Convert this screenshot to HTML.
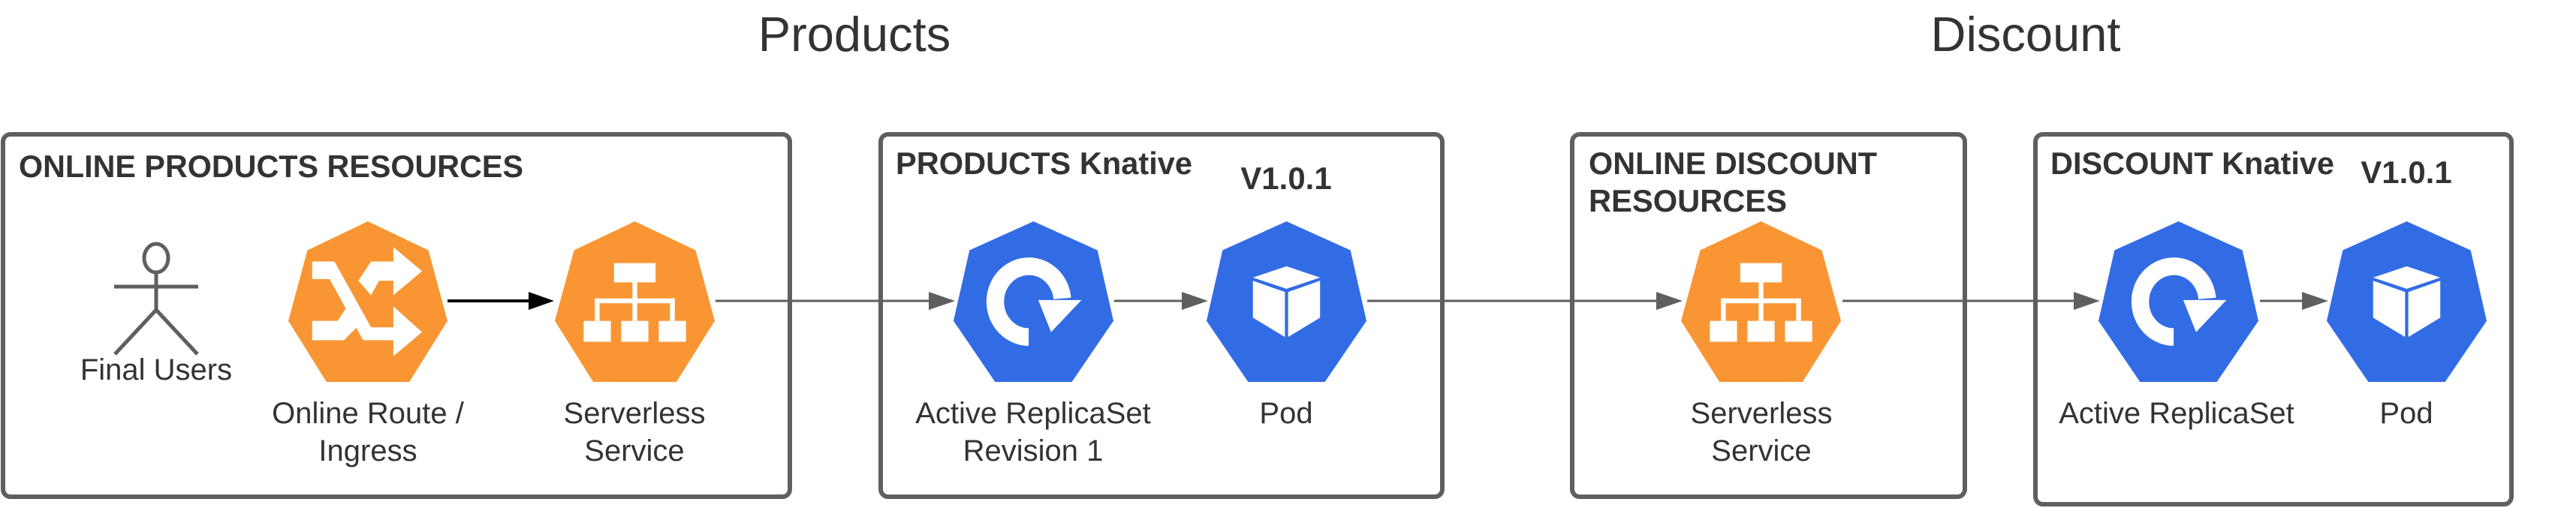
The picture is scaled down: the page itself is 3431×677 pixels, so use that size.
<!DOCTYPE html>
<html><head><meta charset="utf-8"><style>
html,body{margin:0;padding:0;background:#fff;}
svg{display:block;}
text{font-family:"Liberation Sans",Arial,sans-serif;fill:#333;}
.b{font-weight:bold;font-size:42px;}
.l{font-size:40px;text-anchor:middle;}
</style></head><body>
<svg width="3431" height="677" viewBox="0 0 3431 677" xmlns="http://www.w3.org/2000/svg">
<defs>
<symbol id="srv" viewBox="0 0 100 100" preserveAspectRatio="none">
<polygon points="50,0 88,18 100,62 76,100 24,100 0,62 12,18" fill="#f99633"/>
<rect x="37" y="26" width="26" height="12" fill="#fff"/>
<rect x="48.5" y="38" width="3" height="11" fill="#fff"/>
<rect x="25" y="48" width="50" height="3" fill="#fff"/>
<rect x="25" y="48" width="3" height="14" fill="#fff"/>
<rect x="48.5" y="48" width="3" height="14" fill="#fff"/>
<rect x="72" y="48" width="3" height="14" fill="#fff"/>
<rect x="18" y="62" width="17" height="13" fill="#fff"/>
<rect x="41.5" y="62" width="17" height="13" fill="#fff"/>
<rect x="65" y="62" width="17" height="13" fill="#fff"/>
</symbol>
<symbol id="ing" viewBox="0 0 100 100" preserveAspectRatio="none">
<polygon points="50,0 88,18 100,62 76,100 24,100 0,62 12,18" fill="#f99633"/>
<polygon points="15,25 29,25 52,66 66,66 66,53 84,69 66,84 66,74 47,74 26,36 15,36" fill="#fff"/>
<polygon points="44,37 52,25 66,25 66,16 84,31 66,46 66,37 57,37 52,46" fill="#fff"/>
<polygon points="15,62 31,62 37,53 43,66 35,74 15,74" fill="#fff"/>
</symbol>
<symbol id="rs" viewBox="0 0 100 100" preserveAspectRatio="none">
<polygon points="50,0 90,18 100,62 74,100 26,100 0,62 10,18" fill="#326ce5"/>
<path d="M47,72 A21,22 0 1 1 68,48" fill="none" stroke="#fff" stroke-width="11"/>
<polygon points="53,49 80,49 61,69" fill="#fff"/>
</symbol>
<symbol id="pod" viewBox="0 0 100 100" preserveAspectRatio="none">
<polygon points="50,0 90,18 100,62 74,100 26,100 0,62 10,18" fill="#326ce5"/>
<polygon points="50,28 71,35 50,42 29,35" fill="#fff"/>
<polygon points="29,37 49,44 49,72 29,60" fill="#fff"/>
<polygon points="51,44 71,37 71,60 51,72" fill="#fff"/>
</symbol>
</defs>

<text x="1138" y="68" font-size="65" text-anchor="middle">Products</text>
<text x="2698" y="68" font-size="65" text-anchor="middle">Discount</text>

<g fill="none" stroke="#5f5f5f" stroke-width="6">
<rect x="4" y="179" width="1048" height="483" rx="10"/>
<rect x="1173" y="179" width="748" height="483" rx="10"/>
<rect x="2094" y="179" width="523" height="483" rx="10"/>
<rect x="2711" y="179" width="634" height="493" rx="10"/>
</g>

<text class="b" x="25" y="236" textLength="672" lengthAdjust="spacingAndGlyphs">ONLINE PRODUCTS RESOURCES</text>
<text class="b" x="1193" y="232" textLength="395" lengthAdjust="spacingAndGlyphs">PRODUCTS Knative</text>
<text class="b" x="1713" y="252" text-anchor="middle">V1.0.1</text>
<text class="b" x="2116" y="232" textLength="384" lengthAdjust="spacingAndGlyphs">ONLINE DISCOUNT</text>
<text class="b" x="2116" y="282" textLength="264" lengthAdjust="spacingAndGlyphs">RESOURCES</text>
<text class="b" x="2731" y="232" textLength="378" lengthAdjust="spacingAndGlyphs">DISCOUNT Knative</text>
<text class="b" x="3205" y="244" text-anchor="middle">V1.0.1</text>

<g stroke="#5f5f5f" stroke-width="5" fill="none">
<ellipse cx="208" cy="344" rx="16" ry="19"/>
<line x1="208" y1="363" x2="208" y2="413"/>
<line x1="152" y1="382" x2="264" y2="382"/>
<line x1="208" y1="413" x2="153" y2="472"/>
<line x1="208" y1="413" x2="263" y2="472"/>
</g>
<text class="l" x="208" y="506">Final Users</text>

<use href="#ing" x="384" y="295" width="212" height="214"/>
<use href="#srv" x="739" y="295" width="213" height="214"/>
<use href="#rs" x="1270" y="295" width="213" height="214"/>
<use href="#pod" x="1607" y="295" width="213" height="214"/>
<use href="#srv" x="2239" y="295" width="213" height="214"/>
<use href="#rs" x="2795" y="295" width="213" height="214"/>
<use href="#pod" x="3099" y="295" width="213" height="214"/>

<line x1="596" y1="401" x2="710" y2="401" stroke="#000" stroke-width="4"/>
<polygon points="704,389 738,401 704,413" fill="#000"/>
<g stroke="#5f5f5f" stroke-width="3">
<line x1="953" y1="401" x2="1240" y2="401"/>
<line x1="1484" y1="401" x2="1580" y2="401"/>
<line x1="1821" y1="401" x2="2210" y2="401"/>
<line x1="2454" y1="401" x2="2766" y2="401"/>
<line x1="3010" y1="401" x2="3070" y2="401"/>
</g>
<g fill="#5f5f5f">
<polygon points="1237,389 1272,401 1237,413"/>
<polygon points="1574,389 1609,401 1574,413"/>
<polygon points="2206,389 2241,401 2206,413"/>
<polygon points="2762,389 2797,401 2762,413"/>
<polygon points="3066,389 3101,401 3066,413"/>
</g>

<text class="l" x="490" y="564">Online Route /</text>
<text class="l" x="490" y="614">Ingress</text>
<text class="l" x="845" y="564">Serverless</text>
<text class="l" x="845" y="614">Service</text>
<text class="l" x="1376" y="564">Active ReplicaSet</text>
<text class="l" x="1376" y="614">Revision 1</text>
<text class="l" x="1713" y="564">Pod</text>
<text class="l" x="2346" y="564">Serverless</text>
<text class="l" x="2346" y="614">Service</text>
<text class="l" x="2899" y="564">Active ReplicaSet</text>
<text class="l" x="3205" y="564">Pod</text>
</svg>
</body></html>
